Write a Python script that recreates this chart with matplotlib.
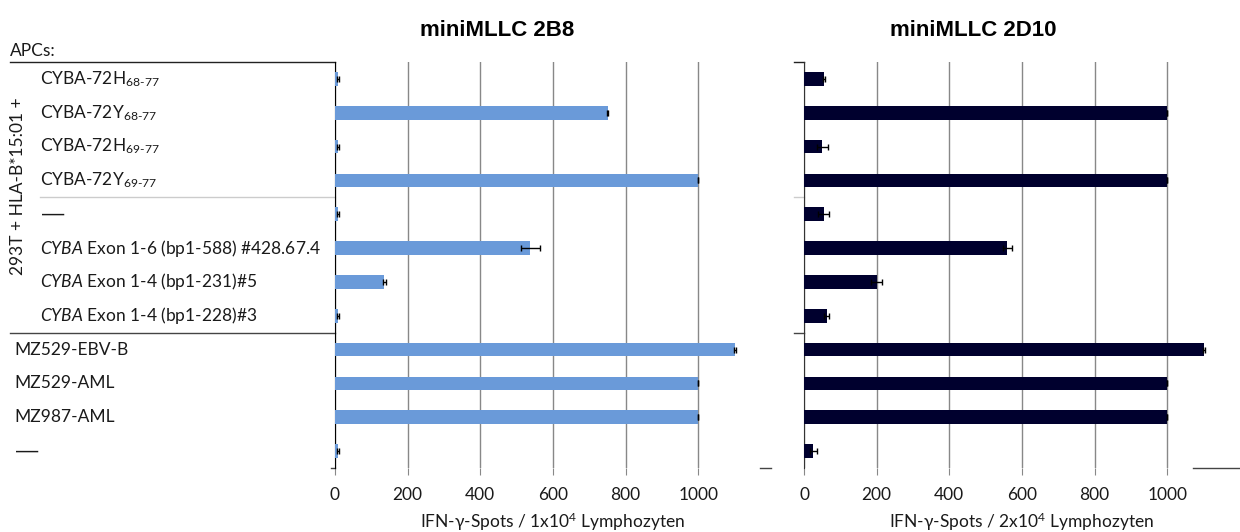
import matplotlib
matplotlib.use("Agg")
import matplotlib.pyplot as plt
import matplotlib.transforms as mtrans
import numpy as np

plt.rcParams['font.family'] = ['Lato', 'DejaVu Sans']
plt.rcParams['mathtext.fontset'] = 'custom'
plt.rcParams['mathtext.rm'] = 'Lato'
plt.rcParams['mathtext.it'] = 'Lato:italic'
plt.rcParams['mathtext.bf'] = 'Lato:bold'

# APCs (top to bottom)
labels = [
    r'CYBA-72H$_{\text{68-77}}$',
    r'CYBA-72Y$_{\text{68-77}}$',
    r'CYBA-72H$_{\text{69-77}}$',
    r'CYBA-72Y$_{\text{69-77}}$',
    '—',
    r'$\mathit{CYBA}$ Exon 1-6 (bp1-588) #428.67.4',
    r'$\mathit{CYBA}$ Exon 1-4 (bp1-231)#5',
    r'$\mathit{CYBA}$ Exon 1-4 (bp1-228)#3',
    'MZ529-EBV-B',
    'MZ529-AML',
    'MZ987-AML',
    '—',
]
indented = [True] * 8 + [False] * 4

# miniMLLC 2B8 spots / 1x10^4
spots_2b8 = [8, 750, 8, 1000, 8, 537, 136, 8, 1100, 1000, 1000, 8]
err_2b8 = [2, 2, 2, 0, 2, 26, 3, 2, 3, 0, 0, 3]
# miniMLLC 2D10 spots / 2x10^4
spots_2d10 = [55, 1000, 50, 1000, 54, 560, 200, 62, 1100, 1000, 1000, 26]
err_2d10 = [3, 0, 15, 0, 16, 12, 15, 8, 3, 0, 0, 9]

W, H = 1240, 532


def fx(x):
    return x / W


def fy(y):
    return 1 - y / H


fig = plt.figure(figsize=(12.4, 5.32), dpi=100)
ax1 = fig.add_axes([fx(335), fy(468), fx(436), 406 / H])
ax2 = fig.add_axes([fx(804), fy(468), fx(436), 406 / H])

rows = np.arange(len(labels))
panels = [
    (ax1, spots_2b8, err_2b8, '#6A9AD9', 'miniMLLC 2B8', '1', 'black', 56),
    (ax2, spots_2d10, err_2d10, '#00002E', 'miniMLLC 2D10', '2', '#333333', 49),
]

for ax, vals, errs, col, title, n, spcol, toff in panels:
    ax.barh(rows, vals, height=0.4, color=col, zorder=3,
            xerr=errs, error_kw=dict(ecolor='black', elinewidth=1, capsize=2.5, capthick=1, zorder=4))
    ax.set_xlim(0, 1200)
    ax.set_ylim(len(labels) - 0.5, -0.5)
    ax.set_xticks([0, 200, 400, 600, 800, 1000])
    ax.set_yticks([])
    ax.grid(axis='x', color='#888888', lw=1, zorder=0)
    for s in ['top', 'right', 'bottom']:
        ax.spines[s].set_visible(False)
    ax.spines['left'].set_color(spcol)
    ax.tick_params(axis='x', length=5, color='#888888', pad=9, labelsize=12.5, labelcolor='#1a1a1a')
    # title and x label
    pos = ax.get_position()
    cx = pos.x0 + pos.width * 0.5
    fig.text(cx - fx(toff), fy(30), title, ha='center', va='center',
             fontsize=16, fontweight='bold', family='Liberation Sans')
    fig.text(cx, fy(522), r'IFN-γ-Spots / %sx10$^{4}$ Lymphozyten' % n,
             ha='center', va='center', fontsize=12.5, color='#1a1a1a')

# category labels
tr = mtrans.blended_transform_factory(fig.transFigure, ax1.transData)
for i, (lab, ind) in enumerate(zip(labels, indented)):
    x0 = 40 if ind else 14
    if lab == '—':
        fig.text(fx(x0 + 2), i, lab, transform=tr, ha='left', va='center',
                 fontsize=16, color='#1a1a1a', family='Liberation Sans')
    else:
        fig.text(fx(x0), i, lab, transform=tr, ha='left', va='center',
                 fontsize=12.5, color='#1a1a1a')

fig.text(fx(10), fy(51), 'APCs:', ha='left', va='center', fontsize=12.5, color='#1a1a1a')
fig.text(fx(18), fy(186), '293T + HLA-B*15:01 +', rotation=90, ha='center', va='center',
         fontsize=12.5, color='#1a1a1a')


# category dividers and axis ticks
def hline(ax, xa, xb, yd, color, lw=1.0):
    t = mtrans.blended_transform_factory(fig.transFigure, ax.transData)
    ax.plot([fx(xa), fx(xb)], [yd, yd], transform=t, color=color, lw=lw, clip_on=False)


hline(ax1, 10, 335, -0.5, '#222222')
hline(ax1, 40, 335, 3.5, '#cccccc')
hline(ax1, 10, 335, 7.5, '#444444')
hline(ax1, 331, 335, 11.5, '#444444')
hline(ax2, 794, 804, -0.5, '#222222')
hline(ax2, 794, 804, 3.5, '#cccccc')
hline(ax2, 794, 804, 7.5, '#444444')
hline(ax2, 760, 771, 11.5, '#444444')
hline(ax2, 1193, 1240, 11.5, '#444444')

fig.savefig('out.png', dpi=100)
